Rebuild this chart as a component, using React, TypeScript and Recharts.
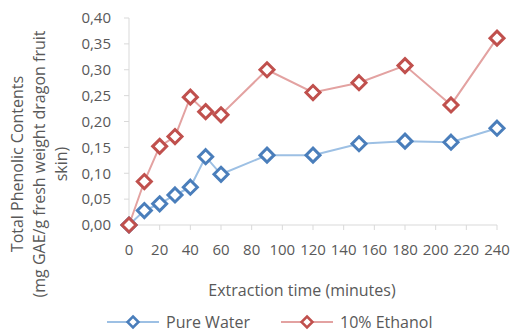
import React from 'react';
import { LineChart, Line, XAxis, YAxis, Legend } from 'recharts';

const minutes = [0, 10, 20, 30, 40, 50, 60, 90, 120, 150, 180, 210, 240];
const pureWater = [0, 0.028, 0.041, 0.058, 0.073, 0.132, 0.098, 0.135, 0.135, 0.157, 0.162, 0.16, 0.187];
const ethanol10 = [0, 0.084, 0.152, 0.171, 0.247, 0.219, 0.213, 0.3, 0.256, 0.275, 0.308, 0.232, 0.361];
const xTicks = [0, 20, 40, 60, 80, 100, 120, 140, 160, 180, 200, 220, 240];
const yTicks = [0, 0.05, 0.1, 0.15, 0.2, 0.25, 0.3, 0.35, 0.4];
const yTitle = ['Total Phenolic Contents', '(mg GAE/g fresh weight dragon fruit', 'skin)'];

const FONT = '"Open Sans", sans-serif';
const TEXT = '#595959';
const AXIS = '#D9D9D9';

const seriesList = [
    { key: 'water', name: 'Pure Water', line: '#9DC0E4', mark: '#4A7EBB' },
    { key: 'ethanol', name: '10% Ethanol', line: '#E3A2A1', mark: '#C0504D' },
];

const data = minutes.map((m, i) => ({ minute: m, water: pureWater[i], ethanol: ethanol10[i] }));

const comma = (v: number) => v.toFixed(2).replace('.', ',');

const Diamond = (color: string) => (props: any) => {
    const { cx, cy, index } = props;
    if (cx == null || cy == null) return null;
    const r = 7;
    return (
        <path
            key={`d-${index}`}
            d={`M${cx},${cy - r}L${cx + r},${cy}L${cx},${cy + r}L${cx - r},${cy}Z`}
            fill="#fff"
            stroke={color}
            strokeWidth={3}
        />
    );
};

// three rotated lines, like the excel title box
const YTitle = () => {
    const cy = 164;
    const xs = [17, 39, 61];
    return (
        <g>
            {yTitle.map((t, i) => (
                <text
                    key={i}
                    x={xs[i]}
                    y={cy}
                    transform={`rotate(-90, ${xs[i]}, ${cy})`}
                    textAnchor="middle"
                    dominantBaseline="central"
                    fill={TEXT}
                    fontSize={16}
                    fontFamily={FONT}
                >
                    {t}
                </text>
            ))}
        </g>
    );
};

const XTitle = (props: any) => {
    const { viewBox } = props;
    return (
        <text
            x={viewBox.x + viewBox.width / 2 - 11}
            y={viewBox.y + 65}
            textAnchor="middle"
            dominantBaseline="central"
            fill={TEXT}
            fontSize={16}
            fontFamily={FONT}
        >
            Extraction time (minutes)
        </text>
    );
};

const LegendBox = () => (
    <div style={{ display: 'flex', height: 22, alignItems: 'center', fontFamily: FONT, fontSize: 16, color: TEXT, paddingLeft: 107 }}>
        {seriesList.map((s, i) => (
            <div key={s.key} style={{ display: 'flex', alignItems: 'center', marginRight: i === 0 ? 31 : 0 }}>
                <svg width={52} height={16} style={{ marginRight: 7 }}>
                    <line x1={0} y1={8} x2={52} y2={8} stroke={s.line} strokeWidth={2} />
                    <path d="M26,2.5L31.5,8L26,13.5L20.5,8Z" fill="#fff" stroke={s.mark} strokeWidth={2.5} />
                </svg>
                <span>{s.name}</span>
            </div>
        ))}
    </div>
);

export default function App() {
    return (
        <div style={{ position: 'absolute', left: 0, top: 0, background: '#fff' }}>
            <LineChart width={513} height={333} data={data} margin={{ top: 18, right: 16, bottom: 0, left: 0 }}>
                <XAxis
                    dataKey="minute"
                    type="number"
                    domain={[0, 240]}
                    ticks={xTicks}
                    interval={0}
                    height={86}
                    stroke={AXIS}
                    tickSize={5}
                    tickMargin={14}
                    tick={{ fill: TEXT, fontSize: 15, fontFamily: FONT }}
                    label={<XTitle />}
                />
                <YAxis
                    type="number"
                    domain={[0, 0.4]}
                    ticks={yTicks}
                    interval={0}
                    width={129}
                    stroke={AXIS}
                    tickSize={5}
                    tickMargin={13}
                    tickFormatter={comma}
                    tick={{ fill: TEXT, fontSize: 15, fontFamily: FONT }}
                    label={<YTitle />}
                />
                <Legend content={<LegendBox />} height={22} verticalAlign="bottom" />
                {seriesList.map((s) => (
                    <Line
                        key={s.key}
                        dataKey={s.key}
                        name={s.name}
                        stroke={s.line}
                        strokeWidth={2}
                        dot={Diamond(s.mark)}
                        isAnimationActive={false}
                    />
                ))}
            </LineChart>
        </div>
    );
}
